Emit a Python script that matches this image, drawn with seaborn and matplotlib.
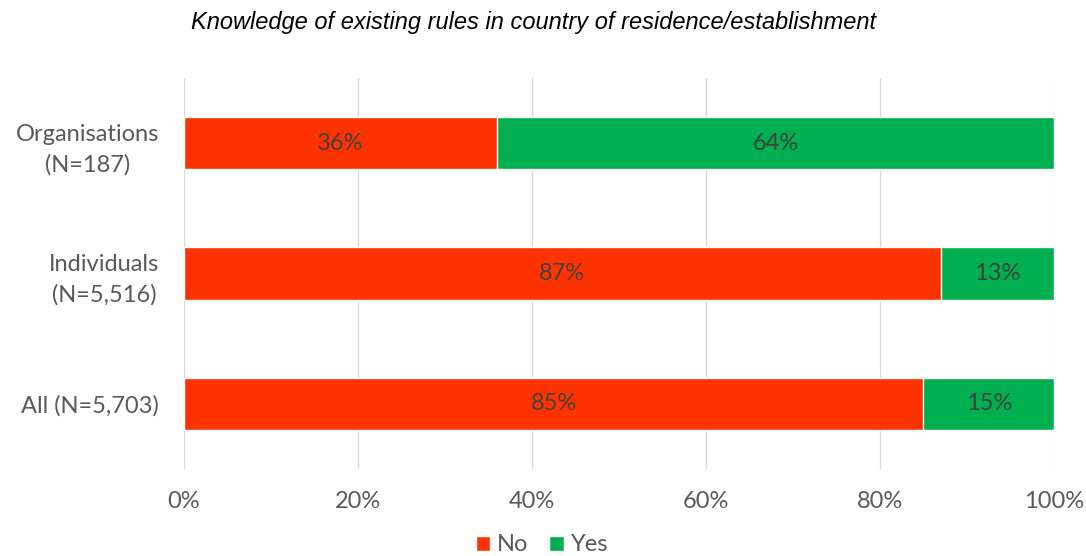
import matplotlib
matplotlib.use("Agg")
import matplotlib.pyplot as plt
import seaborn as sns
import pandas as pd
from matplotlib.patches import Patch

categories = ["Organisations\n(N=187)", "Individuals\n(N=5,516)", "All (N=5,703)"]
no_vals = [36, 87, 85]
yes_vals = [64, 13, 15]
ticks = [0, 20, 40, 60, 80, 100]
tick_labels = ["0%", "20%", "40%", "60%", "80%", "100%"]

RED = "#FF3300"
GREEN = "#00B050"
TXT = "#595959"

sns.set_theme(style="white")
plt.rcParams["font.family"] = ["Lato", "DejaVu Sans"]

df = pd.DataFrame({"cat": categories, "No": no_vals, "Yes": yes_vals})
df["Total"] = df["No"] + df["Yes"]

fig = plt.figure(figsize=(10.86, 5.56), dpi=100)
ax = fig.add_axes([0.1694, 0.1565, 0.8011, 0.7032])

sns.barplot(data=df, y="cat", x="Total", color=GREEN, orient="h", width=0.4,
            saturation=1, ax=ax, zorder=2)
sns.barplot(data=df, y="cat", x="No", color=RED, orient="h", width=0.4,
            saturation=1, ax=ax, zorder=3)

for i, (n, y) in enumerate(zip(no_vals, yes_vals)):
    ax.text(n / 2, i, f"{n}%", ha="center", va="center", fontsize=17, color="#404040", zorder=4)
    ax.text(n + y / 2, i, f"{y}%", ha="center", va="center", fontsize=17, color="#404040", zorder=4)

ax.set_xlim(0, 100)
ax.set_ylim(2.5, -0.5)
ax.set_xticks(ticks)
ax.set_xticklabels(tick_labels)
ax.set_yticks(range(len(categories)))
ax.set_yticklabels(categories, ha="right", multialignment="center", linespacing=1.5)
ax.tick_params(axis="x", labelsize=17, labelcolor=TXT, length=0, pad=16)
ax.tick_params(axis="y", labelsize=17, labelcolor=TXT, length=0, pad=18)
ax.set_xlabel("")
ax.set_ylabel("")
ax.grid(axis="x", color="#D9D9D9", linewidth=1, zorder=0)
ax.set_axisbelow(True)
for s in ax.spines.values():
    s.set_visible(False)

fig.text(0.491, 0.96, "Knowledge of existing rules in country of residence/establishment",
         ha="center", va="center", fontsize=17, style="italic",
         family="Liberation Sans", color="black")

handles = [Patch(facecolor=RED, label="No"), Patch(facecolor=GREEN, label="Yes")]
fig.legend(handles=handles, loc="center", bbox_to_anchor=(0.499, 0.02), ncol=2,
           frameon=False, fontsize=17, labelcolor=TXT, handlelength=0.6,
           handleheight=0.6, handletextpad=0.3, columnspacing=0.9, borderaxespad=0)

fig.savefig("out.png", dpi=100)
